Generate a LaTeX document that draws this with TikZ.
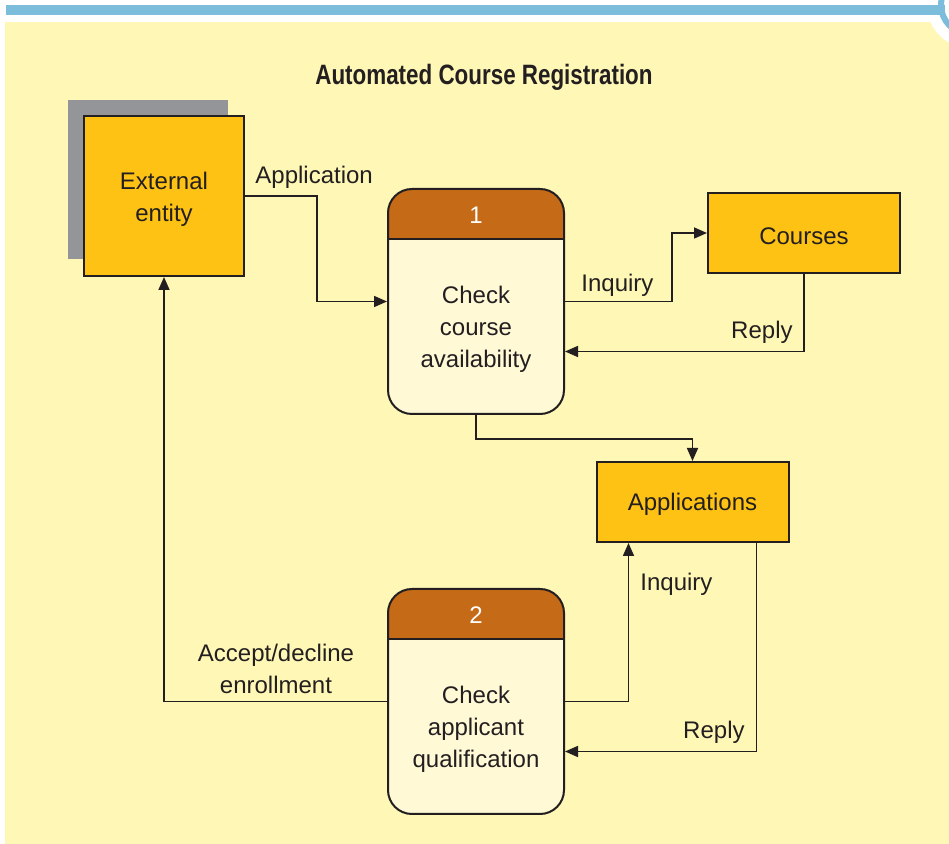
\documentclass[tikz,border=0pt]{standalone}
\usepackage{fontspec}
\setmainfont{Liberation Sans}
\newfontfamily\titlefont{Liberation Sans}[FakeStretch=0.8]
\usetikzlibrary{
    arrows.meta,
    positioning
}
\definecolor{bgyellow}{HTML}{FFF7B6}
\definecolor{barblue}{HTML}{7BBDDA}
\definecolor{boxamber}{HTML}{FEC214}
\definecolor{shadowgray}{HTML}{939598}
\definecolor{headbrown}{HTML}{C56A16}
\definecolor{bodycream}{HTML}{FFF9D6}
\definecolor{linedark}{HTML}{231F20}

\begin{document}
\begin{tikzpicture}[
    x=0.5pt, y=-0.5pt,
    textfont/.style    = {font=\fontsize{12}{16}\selectfont, text=linedark},
    entitynode/.style  = {rectangle, draw=linedark, fill=boxamber, line width=1pt,
                          minimum width=80pt, minimum height=80pt, inner sep=0pt},
    storenode/.style   = {rectangle, draw=linedark, fill=boxamber, line width=1pt,
                          minimum width=96pt, minimum height=40pt, inner sep=0pt},
    processnode/.style = {rectangle, rounded corners=12pt, draw=linedark, fill=bodycream,
                          line width=1pt, minimum width=88pt, minimum height=112.5pt,
                          inner sep=0pt,
                          path picture={
                            \fill[headbrown, sharp corners] (path picture bounding box.north west)
                                rectangle ([yshift=-25pt]path picture bounding box.north east);
                            \draw[linedark, line width=1pt, sharp corners]
                                ([yshift=-25pt]path picture bounding box.north west)
                                -- ([yshift=-25pt]path picture bounding box.north east);
                          }},
    numnode/.style     = {font=\fontsize{12}{16}\selectfont, text=white, inner sep=0pt},
    labelnode/.style   = {textfont, inner sep=0pt, align=center},
    flow/.style        = {draw=linedark, line width=0.8pt,
                          -{Triangle[length=6.5pt,width=5.5pt]}},
]
    %Background
    \useasboundingbox (0,0) rectangle (949,844);
    \clip (0,0) rectangle (949,844);
    \fill[white] (0,0) rectangle (949,844);
    \fill[bgyellow] (5,22) rectangle (949,844);
    \fill[white] (970,5) circle (43);
    \fill[barblue] (6,5) rectangle (945,15);
    \draw[barblue, line width=3pt] (970,5) circle (29);

    %Title
    \node[font=\titlefont\bfseries\fontsize{14}{16}\selectfont, text=linedark]
        (title) at (484,77) {Automated Course Registration};

    %Nodes
    \node[rectangle, fill=shadowgray, minimum width=80pt, minimum height=79.5pt,
          inner sep=0pt]                         (extshadow) at (148,179.5) {};
    \node[entitynode, labelnode]                 (ext)       at (164,196) {};
    \node[labelnode]                             (exttxt)    at (164,199) {External\\entity};
    \node[processnode]                           (p1)        at (476,301.5) {};
    \node[numnode]                               (p1num)     at (476,215) {1};
    \node[labelnode]                             (p1txt)     at (476,329) {Check\\course\\availability};
    \node[storenode, textfont]                   (courses)   at (804,233) {};
    \node[labelnode]                             (coursestxt) at (804,236) {Courses};
    \node[storenode, textfont]                   (apps)      at (692.5,502) {};
    \node[labelnode]                             (appstxt)   at (692.5,504) {Applications};
    \node[processnode]                           (p2)        at (476,701.5) {};
    \node[numnode]                               (p2num)     at (476,615) {2};
    \node[labelnode]                             (p2txt)     at (476,729) {Check\\applicant\\qualification};

    %Lines
    \draw[flow] (ext.east) -- ++(72,0) |- (p1.west);
    \draw[flow] (p1.east) -- ++(107,0) |- (courses.west);
    \draw[flow] (courses.south) |- ([yshift=-25pt]p1.east);
    \draw[flow] (p1.south) -- ++(0,24) -| (apps.north);
    \draw[flow] (p2.east) -| ([xshift=-32pt]apps.south);
    \draw[flow] ([xshift=32pt]apps.south) |- ([yshift=-25pt]p2.east);
    \draw[flow] (p2.west) -| (ext.south);

    %Labels
    \node[labelnode, anchor=west] (lblapp)      at (255,177) {Application};
    \node[labelnode, anchor=west] (lblinq1)     at (581,285) {Inquiry};
    \node[labelnode, anchor=east] (lblrep1)     at (793,332) {Reply};
    \node[labelnode, anchor=west] (lblinq2)     at (640,584) {Inquiry};
    \node[labelnode, anchor=east] (lblrep2)     at (745,732) {Reply};
    \node[labelnode]              (lblaccept)   at (276,669) {Accept/decline\\enrollment};
\end{tikzpicture}
\end{document}
